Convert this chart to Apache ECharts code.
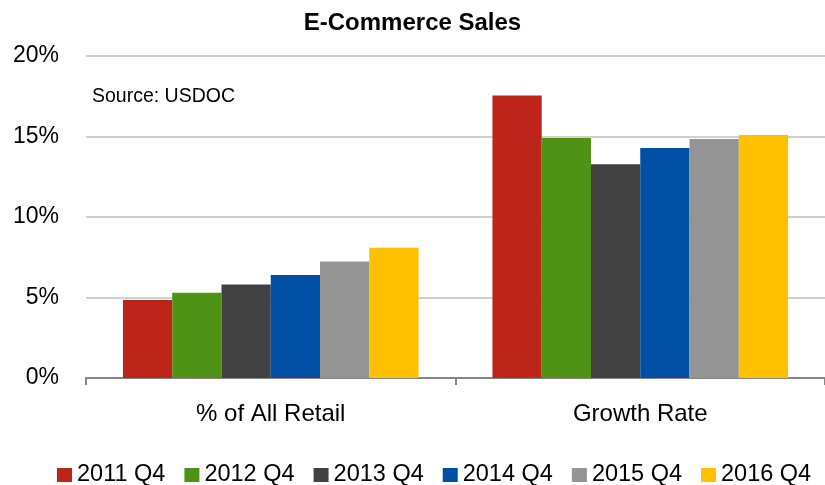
<!DOCTYPE html>
<html>
<head>
<meta charset="utf-8">
<script src="https://cdn.jsdelivr.net/npm/echarts@6/dist/echarts.min.js"></script>
<style>
  html, body { margin: 0; padding: 0; background: #fff; }
  #chart { width: 825px; height: 485px; }
</style>
</head>
<body>
<div id="chart"></div>
<script>
// data
const categories = ["% of All Retail", "Growth Rate"];
const seriesNames = ["2011 Q4", "2012 Q4", "2013 Q4", "2014 Q4", "2015 Q4", "2016 Q4"];
const seriesColors = ["#BE251A", "#4E9216", "#424242", "#0050A5", "#949494", "#FFC000"];
const v2011 = [4.84, 17.55];
const v2012 = [5.30, 14.90];
const v2013 = [5.81, 13.27];
const v2014 = [6.40, 14.29];
const v2015 = [7.24, 14.84];
const v2016 = [8.09, 15.09];
const seriesValues = [v2011, v2012, v2013, v2014, v2015, v2016];

const font = "'Liberation Sans', Arial, sans-serif";

const chart = echarts.init(document.getElementById("chart"));
chart.setOption({
    animation: false,
    title: {
        text: "E-Commerce Sales",
        left: "center",
        top: 6,
        textStyle: {fontFamily: font, fontSize: 24, fontWeight: "bold", color: "#000"}
    },
    graphic: [{
        type: "text",
        left: 92,
        top: 87,
        style: {text: "Source: USDOC", fontFamily: font, fontSize: 19.5, fill: "#000"}
    }],
    grid: {left: 86, width: 743, top: 56, bottom: 107},
    legend: {
        top: 458,
        left: 52,
        itemWidth: 15,
        itemHeight: 14,
        itemGap: 19,
        icon: "rect",
        textStyle: {fontFamily: font, fontSize: 23.5, lineHeight: 24, color: "#000", padding: [0, 0, 0, 0]},
        data: seriesNames
    },
    xAxis: {
        type: "category",
        data: categories,
        axisLine: {lineStyle: {color: "#868686", width: 2}},
        axisTick: {show: true, length: 7, lineStyle: {color: "#868686", width: 2}},
        axisLabel: {fontFamily: font, fontSize: 24, color: "#000", margin: 24}
    },
    yAxis: {
        type: "value",
        min: 0,
        max: 20,
        interval: 5,
        axisLine: {show: false},
        axisTick: {show: false},
        splitLine: {lineStyle: {color: "#C0C0C0", width: 1.5}},
        axisLabel: {
            fontFamily: font, fontSize: 23, color: "#000", margin: 27,
            formatter: v => v + "%"
        }
    },
    series: seriesNames.map((name, i) => ({
        name: name,
        type: "bar",
        data: seriesValues[i],
        barGap: "0%",
        barCategoryGap: "20%",
        itemStyle: {color: seriesColors[i]}
    }))
});
</script>
</body>
</html>
